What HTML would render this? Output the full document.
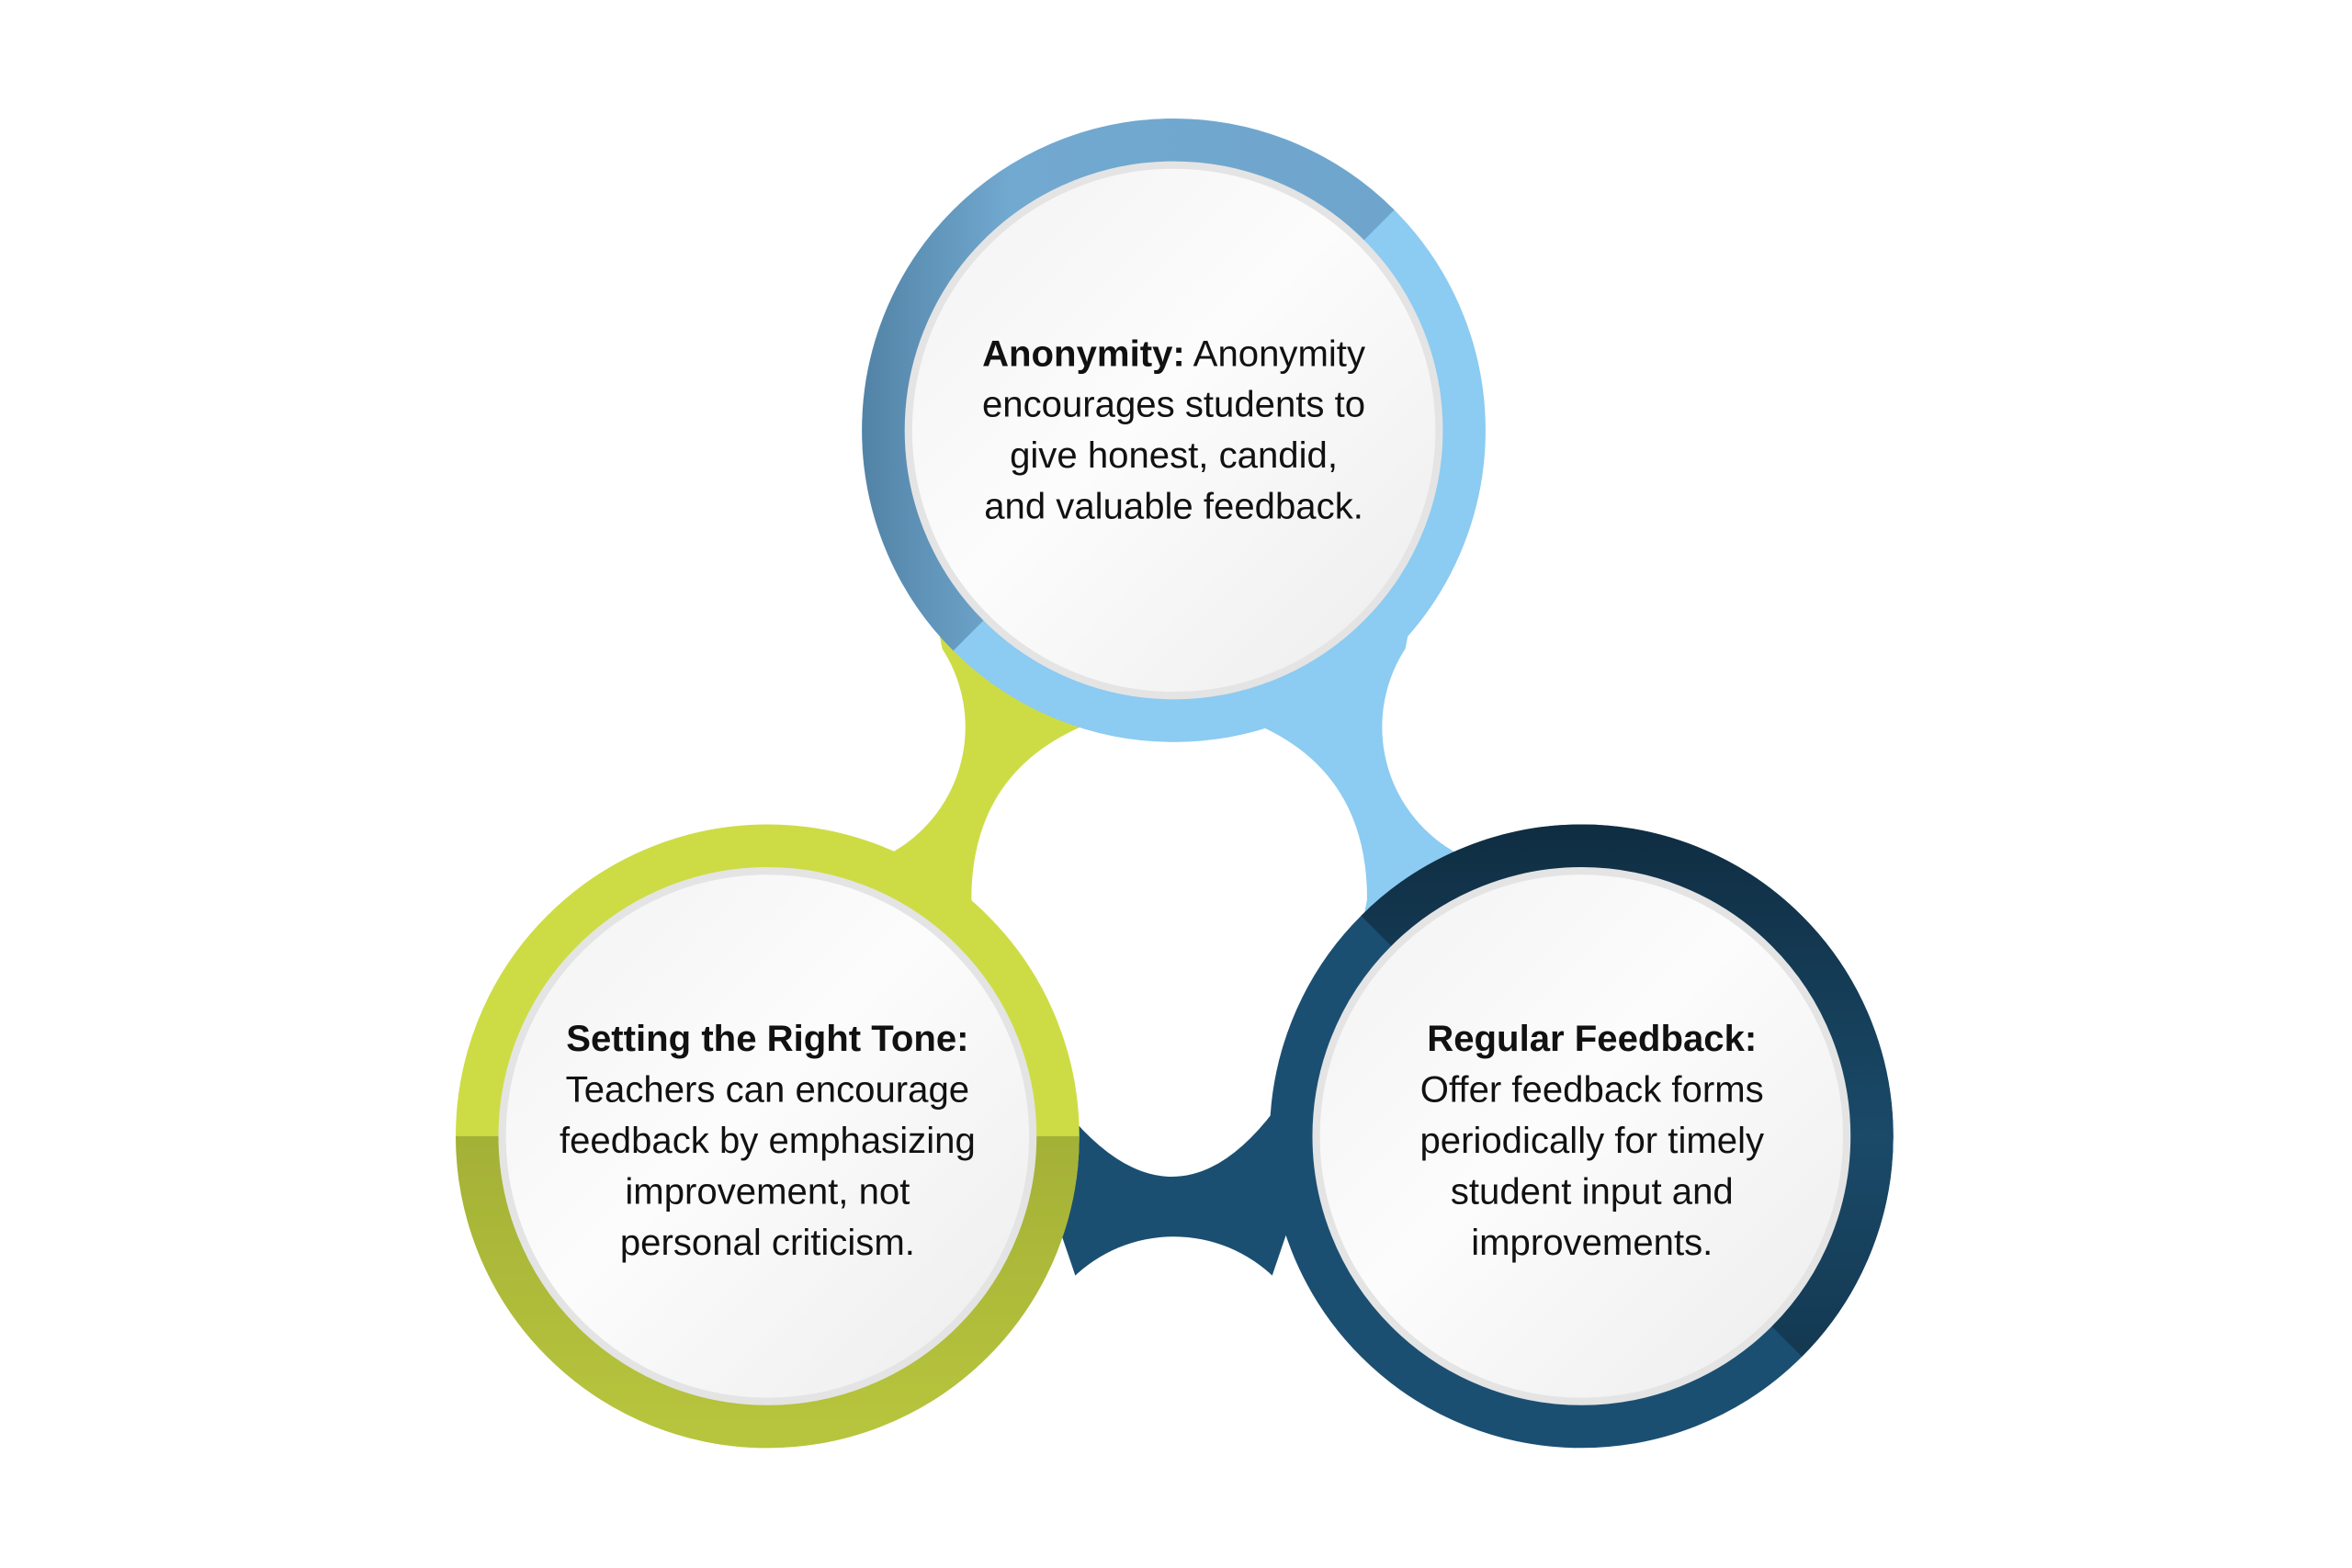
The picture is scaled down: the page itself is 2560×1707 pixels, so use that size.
<!DOCTYPE html>
<html><head><meta charset="utf-8"><style>
html,body{margin:0;padding:0;background:#fff;}
svg{display:block;}
text{font-family:"Liberation Sans",sans-serif;font-size:24.6px;fill:#111;text-anchor:middle;}
</style></head><body>
<svg width="2560" height="1707" viewBox="0 0 1569 1046" xmlns="http://www.w3.org/2000/svg">
<defs>
<linearGradient id="wg" x1="0" y1="0" x2="1" y2="1">
<stop offset="0" stop-color="#f2f2f2"/><stop offset="0.45" stop-color="#fcfcfc"/><stop offset="1" stop-color="#ececec"/>
</linearGradient>
<linearGradient id="steel" x1="0" y1="0" x2="1" y2="1">
<stop offset="0" stop-color="#6da3cb"/><stop offset="0.7" stop-color="#72a9d0"/><stop offset="1" stop-color="#3d6a8a"/>
</linearGradient>
<linearGradient id="olive" x1="0" y1="0" x2="0" y2="1">
<stop offset="0" stop-color="#4f5818"/><stop offset="0.12" stop-color="#94a232"/><stop offset="1" stop-color="#b7c43d"/>
</linearGradient>
<linearGradient id="navyd" x1="0" y1="0" x2="1" y2="1">
<stop offset="0" stop-color="#0e2a3d"/><stop offset="0.5" stop-color="#1a4a69"/><stop offset="1" stop-color="#0c2435"/>
</linearGradient>
</defs>
<!-- bridges -->
<polygon points="783,287 622,400 630,440 560,580 512,758 783,600" fill="#cddc45"/>
<polygon points="783,287 944,400 936,440 1006,580 1055,758 783,600" fill="#8ccbf2"/>
<polygon points="512,758 700,800 718,853 848,853 866,800 1055,758 783,600" fill="#1b4f72"/>
<path d="M840,470 L723,470 L723,484 Q648,516 648,600 L700,700 L711,741 Q783,829 850,741 L900,660 L912,600 Q912,516 840,484 Z" fill="#fff"/>
<circle cx="548" cy="485" r="96" fill="#fff"/>
<circle cx="1018" cy="485" r="96" fill="#fff"/>
<circle cx="783" cy="921" r="96" fill="#fff"/>
<!-- top ring -->
<circle cx="783" cy="287" r="193" fill="none" stroke="#8ccbf2" stroke-width="30"/>
<circle cx="783" cy="287" r="193" fill="none" stroke="url(#steel)" stroke-width="30" stroke-dasharray="606.3 1212.6" transform="rotate(135 783 287)"/>
<!-- left ring -->
<circle cx="512" cy="758" r="193" fill="none" stroke="#cddc45" stroke-width="30"/>
<circle cx="512" cy="758" r="193" fill="none" stroke="url(#olive)" stroke-width="30" stroke-dasharray="606.3 1212.6"/>
<!-- right ring -->
<circle cx="1055" cy="758" r="193" fill="none" stroke="#1b4f72" stroke-width="30"/>
<circle cx="1055" cy="758" r="193" fill="none" stroke="url(#navyd)" stroke-width="30" stroke-dasharray="606.3 1212.6" transform="rotate(225 1055 758)"/>
<!-- inner discs -->
<circle cx="783" cy="287" r="177" fill="url(#wg)" stroke="#e4e4e4" stroke-width="5"/>
<circle cx="512" cy="758" r="177" fill="url(#wg)" stroke="#e4e4e4" stroke-width="5"/>
<circle cx="1055" cy="758" r="177" fill="url(#wg)" stroke="#e4e4e4" stroke-width="5"/>
<!-- text -->
<text x="783" y="244"><tspan font-weight="bold">Anonymity:</tspan> Anonymity</text>
<text x="783" y="278">encourages students to</text>
<text x="783" y="312">give honest, candid,</text>
<text x="783" y="346">and valuable feedback.</text>
<text x="512" y="701" font-weight="bold">Setting the Right Tone:</text>
<text x="512" y="735">Teachers can encourage</text>
<text x="512" y="769">feedback by emphasizing</text>
<text x="512" y="803">improvement, not</text>
<text x="512" y="837">personal criticism.</text>
<text x="1062" y="701" font-weight="bold">Regular Feedback:</text>
<text x="1062" y="735">Offer feedback forms</text>
<text x="1062" y="769">periodically for timely</text>
<text x="1062" y="803">student input and</text>
<text x="1062" y="837">improvements.</text>
</svg>
</body></html>
